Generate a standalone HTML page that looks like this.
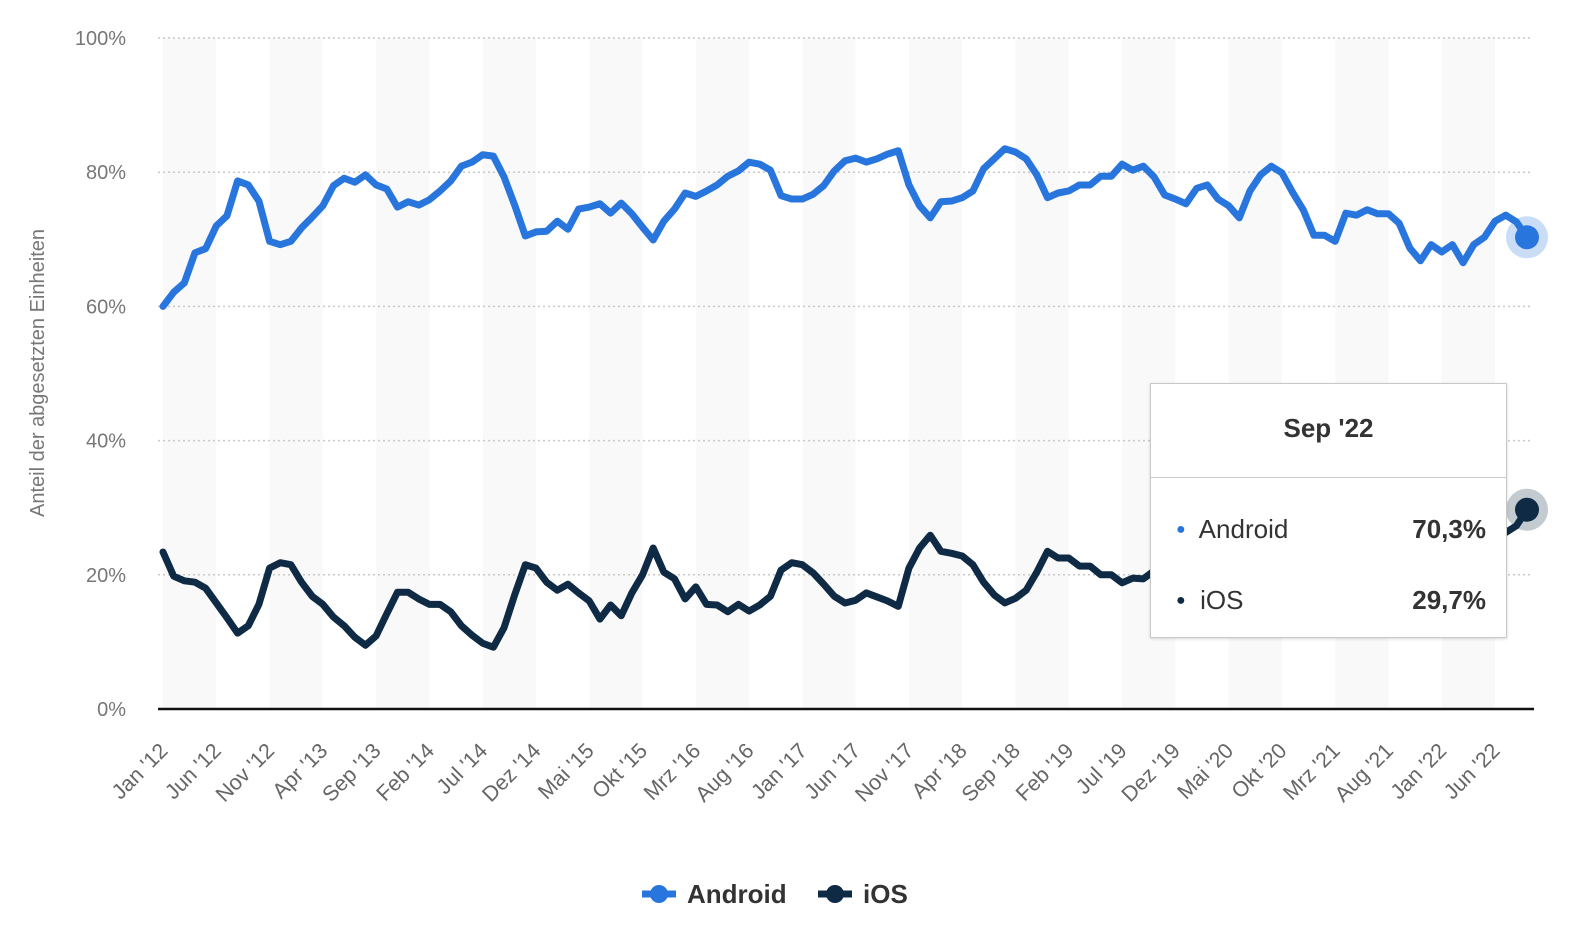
<!DOCTYPE html>
<html><head><meta charset="utf-8"><style>
body{margin:0;background:#fff;width:1582px;height:934px;overflow:hidden;font-family:"Liberation Sans",sans-serif}
svg text{font-family:"Liberation Sans",sans-serif}
#tip{position:absolute;left:1150px;top:383px;width:355px;height:253px;background:#fff;border:1px solid #c8c8c8;box-shadow:0 1px 3px rgba(0,0,0,.15)}
</style></head><body>
<svg id="chart" width="1582" height="934" style="position:absolute;left:0;top:0"></svg>
<div id="tip">
 <div style="position:absolute;top:29px;width:100%;text-align:center;font-weight:bold;font-size:26px;color:#333">Sep '22</div>
 <div style="position:absolute;top:93px;left:0;width:100%;border-top:1px solid #ccc"></div>
 <div style="position:absolute;top:130px;left:25px;right:20px;font-size:26px;color:#333"><span style="color:#2876dd;font-size:16px;vertical-align:4px">●</span>&nbsp; Android<span style="float:right;font-weight:bold">70,3%</span></div>
 <div style="position:absolute;top:201px;left:25px;right:20px;font-size:26px;color:#333"><span style="color:#0f2a44;font-size:16px;vertical-align:4px">●</span>&nbsp; iOS<span style="float:right;font-weight:bold">29,7%</span></div>
</div>
<script>
const months=["Jan","Feb","Mrz","Apr","Mai","Jun","Jul","Aug","Sep","Okt","Nov","Dez"];
const android=[60,62.1,63.5,68,68.6,72,73.5,78.7,78.1,75.7,69.7,69.2,69.7,71.7,73.3,75,78,79.1,78.5,79.6,78.1,77.5,74.8,75.6,75.1,75.9,77.2,78.7,80.9,81.5,82.6,82.4,79.3,75.1,70.5,71.1,71.2,72.7,71.5,74.5,74.8,75.3,73.9,75.4,73.8,71.8,69.9,72.7,74.5,76.9,76.4,77.2,78.1,79.4,80.2,81.5,81.2,80.3,76.5,76,76,76.7,78,80.2,81.7,82.1,81.5,82,82.7,83.2,78.1,75,73.2,75.6,75.7,76.2,77.2,80.5,82,83.5,83,82,79.6,76.2,76.9,77.2,78.1,78.1,79.4,79.4,81.2,80.3,80.9,79.3,76.6,76,75.3,77.6,78.1,76,75,73.2,77.2,79.6,80.9,79.9,77,74.4,70.6,70.6,69.7,73.9,73.6,74.4,73.8,73.8,72.4,68.7,66.8,69.2,68.1,69.2,66.5,69.2,70.3,72.7,73.6,72.6,70.3];
const ios=[23.4,19.8,19.1,18.9,18,15.8,13.6,11.3,12.4,15.6,21,21.8,21.5,18.9,16.8,15.6,13.7,12.4,10.7,9.5,10.9,14.2,17.4,17.4,16.4,15.6,15.6,14.5,12.4,11,9.8,9.2,12.1,17,21.5,21,18.9,17.7,18.6,17.3,16.1,13.4,15.5,13.9,17.3,20,24,20.4,19.4,16.4,18.2,15.6,15.5,14.5,15.6,14.6,15.5,16.8,20.7,21.8,21.5,20.3,18.6,16.8,15.8,16.2,17.3,16.7,16.1,15.3,21,24,25.9,23.5,23.2,22.8,21.5,18.9,17,15.8,16.5,17.7,20.4,23.5,22.5,22.5,21.3,21.3,20,20,18.8,19.5,19.4,20.6,23.3,23.9,24.6,22.3,21.8,23.9,24.9,26.7,22.7,20.3,19,20,22.9,25.5,29.3,29.3,30.2,26,26.3,25.5,26.1,26.1,27.5,31.2,33.1,30.7,31.8,30.7,33.4,30.7,29.6,27.2,26.3,27.3,29.7];
const yTicks=[0,20,40,60,80,100];
const NS="http://www.w3.org/2000/svg";
const svg=document.getElementById('chart');
const x0=163,x1=1527,y0=709,y100=38;
const X=i=>x0+(x1-x0)*i/(android.length-1);
const Y=v=>y0-(y0-y100)*v/100;
function mk(t,a,p){const e=document.createElementNS(NS,t);for(const k in a)e.setAttribute(k,a[k]);(p||svg).appendChild(e);return e;}
const n=android.length;
for(let i=0;i<n;i+=10){const b=mk('rect',{x:X(i),y:Y(100),width:X(Math.min(i+5,n-1))-X(i),height:y0-Y(100),fill:'#f9f9f9'});

}
yTicks.forEach(v=>{
 if(v>0){const g=mk('line',{x1:158,x2:1532,y1:Y(v),y2:Y(v),stroke:'#c8c8c8','stroke-width':1.5,'stroke-dasharray':'2,3'});
 
 }
 const t=mk('text',{x:126,y:Y(v)+7,'text-anchor':'end','font-size':20,fill:'#777'});t.textContent=v+'%';
 
 
});
const ax=mk('line',{x1:158,x2:1534,y1:y0,y2:y0,stroke:'#111','stroke-width':2.5});


for(let i=0;i<n;i+=5){const m=i%12,yr=12+Math.floor(i/12);
 const t=mk('text',{x:X(i)+6,y:752,'text-anchor':'end','font-size':21.5,fill:'#666',transform:`rotate(-45 ${X(i)+6} 752)`});
 t.textContent=months[m]+" '"+yr;
 
 }
const yt=mk('text',{x:44,y:373,'text-anchor':'middle','font-size':20,fill:'#777',transform:'rotate(-90 44 373)'});
yt.textContent='Anteil der abgesetzten Einheiten';


function series(arr,col,name,halo){
 const p=mk('polyline',{points:arr.map((v,i)=>X(i)+','+Y(v)).join(' '),fill:'none',stroke:col,'stroke-width':7,'stroke-linejoin':'round','stroke-linecap':'round'});
 
 
 const l=arr.length-1;
 const h=mk('circle',{cx:X(l),cy:Y(arr[l]),r:21,fill:halo});
 
 
 const c=mk('circle',{cx:X(l),cy:Y(arr[l]),r:12,fill:col});
 
 
}
series(android,'#2876dd','android','rgba(40,118,221,0.25)');
series(ios,'#0f2a44','ios','rgba(15,42,68,0.25)');
function leg(x,col,label,name){
 const g=mk('g',{});
 
 
 mk('line',{x1:x,x2:x+34,y1:894,y2:894,stroke:col,'stroke-width':7},g);
 mk('circle',{cx:x+17,cy:894,r:9,fill:col},g);
 const t=mk('text',{x:x+45,y:903,'font-size':26,'font-weight':'bold',fill:'#333'},g);t.textContent=label;
}
leg(642,'#2876dd','Android','legend-android');
leg(818,'#0f2a44','iOS','legend-ios');
</script>
</body></html>
